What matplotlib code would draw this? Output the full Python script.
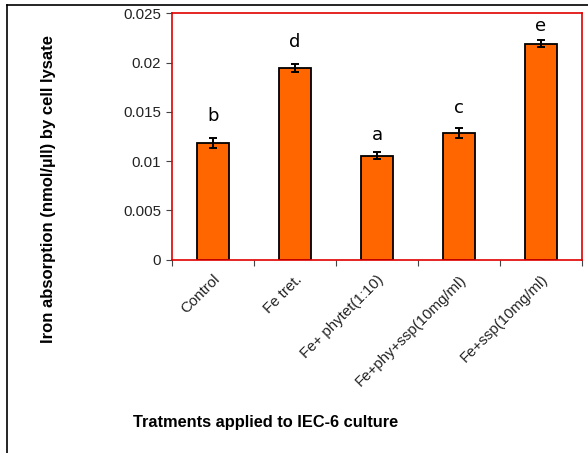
import matplotlib
matplotlib.use("Agg")
import matplotlib.pyplot as plt
from matplotlib.lines import Line2D

plt.rcParams['font.family'] = ['Liberation Sans', 'DejaVu Sans']

categories = ["Control", "Fe tret.", "Fe+ phytet(1:10)", "Fe+phy+ssp(10mg/ml)", "Fe+ssp(10mg/ml)"]
values = [0.01184, 0.01948, 0.01055, 0.01286, 0.02192]
errors = [0.00054, 0.00039, 0.00037, 0.00054, 0.00034]
letters = ["b", "d", "a", "c", "e"]
yticks = [0, 0.005, 0.01, 0.015, 0.02, 0.025]
ytick_labels = ["0", "0.005", "0.01", "0.015", "0.02", "0.025"]

fig = plt.figure(figsize=(5.88, 4.53), dpi=100)
ax = fig.add_axes([0.2925, 0.4267, 0.6973, 0.544])

x = list(range(len(categories)))
ax.bar(x, values, width=0.4, color="#FF6600", edgecolor="black", linewidth=1.3, zorder=2)
ax.errorbar(x, values, yerr=errors, fmt="none", ecolor="black", elinewidth=1.4,
            capsize=3, capthick=1.4, zorder=3)

offsets = [0.0022, 0.0022, 0.0017, 0.0020, 0.0014]
for xi, v, e, l, o in zip(x, values, errors, letters, offsets):
    ax.text(xi, v + e + o, l, ha="center", va="center", fontsize=13, color="black",
            family=["DejaVu Sans"])

ax.set_xlim(-0.5, len(categories) - 0.5)
ax.set_ylim(0, 0.025)
ax.set_yticks(yticks)
ax.set_yticklabels(ytick_labels, fontsize=10.8, color="#222222")
ax.set_xticks([i - 0.5 for i in range(len(categories) + 1)], minor=False)
ax.set_xticklabels([""] * (len(categories) + 1))
ax.set_xticks(x, minor=True)
ax.set_xticklabels(categories, minor=True, rotation=45, ha="right",
                   rotation_mode="anchor", fontsize=10.8, color="#222222")
ax.tick_params(axis="x", which="minor", length=0, pad=9)
ax.tick_params(axis="x", which="major", length=4, direction="out", color="#444444")
ax.tick_params(axis="y", length=4, direction="out", color="#444444", pad=4)
for s in ax.spines.values():
    s.set_color("#E00000")
    s.set_linewidth(1.2)

fig.text(0.082, 0.583, "Iron absorption (nmol/µll) by cell lysate", rotation=90,
         ha="center", va="center", fontsize=12, fontweight="bold")
fig.text(0.226, 0.068, "Tratments applied to IEC-6 culture", ha="left", va="center",
         fontsize=11.8, fontweight="bold")

# outer frame lines
fig.add_artist(Line2D([7/588, 1.0], [1 - 5/453, 1 - 5/453], color="black", linewidth=1.2,
                      transform=fig.transFigure))
fig.add_artist(Line2D([7/588, 7/588], [0, 1 - 5/453], color="black", linewidth=1.2,
                      transform=fig.transFigure))

fig.savefig("out.png", dpi=100)
